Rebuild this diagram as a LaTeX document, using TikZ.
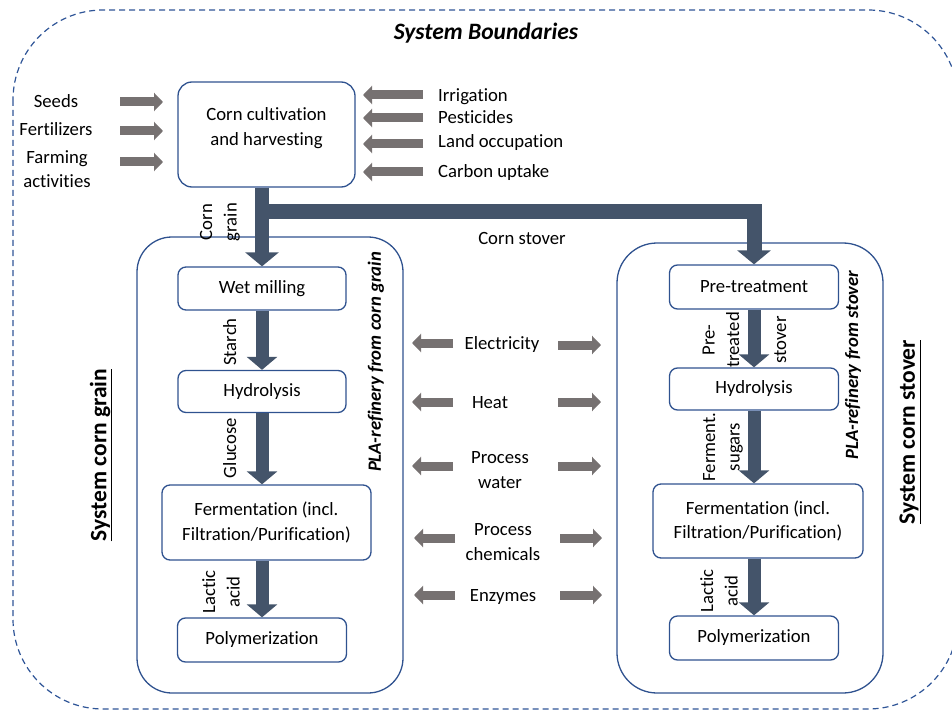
\documentclass[tikz,border=0pt]{standalone}
\usepackage{fontspec}
\setmainfont{Carlito}[RawFeature={-liga;-clig;-calt;-dlig}]
\usetikzlibrary{arrows.meta}
\definecolor{pipec}{RGB}{68,84,106}
\definecolor{boxc}{RGB}{47,82,143}
\definecolor{grayc}{RGB}{118,113,113}
\definecolor{dashc}{RGB}{47,85,151}
\begin{document}
\begin{tikzpicture}[x=1pt,y=-1pt,
  every node/.style={font=\fontsize{18.7}{24.5}\selectfont, inner sep=0pt},
  one/.style={text height=12pt, text depth=0pt},
  proc/.style={draw=boxc, line width=1.3pt, rounded corners=8pt, align=center},
  container/.style={draw=boxc, line width=1.3pt},
  garrow/.style={draw=grayc, line width=9pt, -{Triangle[length=9pt,width=18pt]}},
  flow/.style={draw=pipec, line width=13pt, -{Triangle[length=13pt,width=30pt]}},
  pipe/.style={draw=pipec, line width=15pt, line join=miter, -{Triangle[length=14pt,width=33pt]}},
  rot/.style={rotate=90, align=center},
  big/.style={font=\fontsize{23.5}{28}\selectfont\bfseries},
  pla/.style={rotate=90, font=\fontsize{18.7}{24.5}\selectfont\bfseries\itshape}
]
\useasboundingbox (0,0) rectangle (952,711);
% system boundary
\draw[dashc, line width=1.2pt, dash pattern=on 6pt off 4pt, rounded corners=90pt] (13,10) rectangle (958,709);
\node[big, font=\fontsize{23.5}{28}\selectfont\bfseries\itshape, one, text height=16pt] (title) at (486,32) {System Boundaries};

% containers
\node[container, rounded corners=35pt, minimum width=266pt, minimum height=456pt] (lsys) at (270,465) {};
\node[container, rounded corners=40pt, minimum width=266pt, minimum height=450pt] (rsys) at (750,468) {};

% corn cultivation
\node[proc, rounded corners=14pt, minimum width=177pt, minimum height=105pt] (ccb) at (266.5,134.5) {};
\node[align=center] (cct) at (266.5,128) {Corn cultivation\\and harvesting};

% left inputs
\node[one] (seeds) at (56,102) {Seeds};
\node[one] (fert) at (56,130) {Fertilizers};
\node[align=center] (farm) at (57,169) {Farming\\activities};
\draw[garrow] (120,102) -- (163,102);
\draw[garrow] (120,131) -- (163,131);
\draw[garrow] (120,162) -- (163,162);

% right inputs
\node[one, anchor=west] (irr) at (438,96) {Irrigation};
\node[one, anchor=west] (pest) at (438,118) {Pesticides};
\node[one, anchor=west] (land) at (438,142) {Land occupation};
\node[one, anchor=west] (carb) at (438,172) {Carbon uptake};
\draw[garrow] (423,95) -- (363,95);
\draw[garrow] (423,118) -- (363,118);
\draw[garrow] (423,144) -- (363,144);
\draw[garrow] (423,172) -- (363,172);

% left process boxes
\node[proc, minimum width=168pt, minimum height=43pt] (wet) at (262,288.5) {Wet milling};
\node[proc, minimum width=168pt, minimum height=42pt] (hyd1) at (262,391.5) {Hydrolysis};
\node[proc, minimum width=209pt, minimum height=75pt] (ferm1) at (266.5,522.5) {Fermentation (incl.\\Filtration/Purification)};
\node[proc, minimum width=169pt, minimum height=44pt] (poly1) at (262,640) {Polymerization};

% right process boxes
\node[proc, minimum width=169pt, minimum height=44pt] (pre) at (754,287) {Pre-treatment};
\node[proc, minimum width=169pt, minimum height=42pt] (hyd2) at (754,389) {Hydrolysis};
\node[proc, minimum width=210pt, minimum height=74pt] (ferm2) at (758,521) {Fermentation (incl.\\Filtration/Purification)};
\node[proc, minimum width=169pt, minimum height=44pt] (poly2) at (754,638) {Polymerization};

% pipes
\coordinate (split) at (262,212);
\draw[pipe, line width=14pt] (ccb.south -| wet.north) -- (wet.north);
\draw[pipe] (split) -| (pre.north);
\node[one] (stover) at (522,238) {Corn stover};
\node[rot] (cg) at (220,222) {Corn\\grain};

% left flows
\draw[flow] (wet.south) -- (hyd1.north);
\draw[flow] (hyd1.south) -- (hyd1.south |- ferm1.north);
\draw[flow] (ferm1.south -| poly1.north) -- (poly1.north);
\node[rot, one] (starch) at (230,342) {Starch};
\node[rot, one] (gluc) at (230,448) {Glucose};
\node[rot] (lac1) at (221,592) {Lactic\\acid};

% right flows
\draw[flow] (pre.south) -- (hyd2.north);
\draw[flow] (hyd2.south) -- (hyd2.south |- ferm2.north);
\draw[flow] (ferm2.south -| poly2.north) -- (poly2.north);
\node[rot] (ptr) at (721,340) {Pre-\\treated};
\node[rot, one] (stv) at (780,340) {stover};
\node[rot] (fs) at (723,447) {Ferment.\\sugars};
\node[rot] (lac2) at (719,591) {Lactic\\acid};

% PLA labels
\node[pla] (pla1) at (376,362) {PLA-refinery from corn grain};
\node[pla] (pla2) at (853,365) {PLA-refinery from stover};

% system labels
\node[big, rotate=90] (sg) at (101,455) {\underline{System corn grain}};
\node[big, rotate=90] (ss) at (910,432) {\underline{System corn stover}};

% utilities
\node[one] (elec) at (502,343) {Electricity};
\node[one] (heat) at (490,402) {Heat};
\node[align=center] (pw) at (500,470) {Process\\water};
\node[align=center] (pc) at (503,542) {Process\\chemicals};
\node[one] (enz) at (503,595) {Enzymes};
\draw[garrow] (453,343) -- (412,343);
\draw[garrow] (558,345) -- (601,345);
\draw[garrow] (453,402) -- (412,402);
\draw[garrow] (558,402) -- (601,402);
\draw[garrow] (453,466) -- (412,466);
\draw[garrow] (558,466) -- (601,466);
\draw[garrow] (455,538) -- (414,538);
\draw[garrow] (560,538) -- (602,538);
\draw[garrow] (455,595) -- (414,595);
\draw[garrow] (560,595) -- (602,595);
\end{tikzpicture}
\end{document}
